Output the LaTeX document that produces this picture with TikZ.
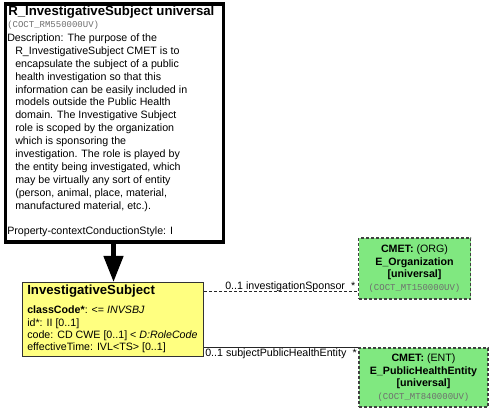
\documentclass[tikz,border=0pt]{standalone}
\usepackage{fontspec}
\setmainfont{Liberation Sans}
\setmonofont{Liberation Mono}
\usetikzlibrary{arrows.meta}
\definecolor{umlyellow}{RGB}{255,255,128}
\definecolor{cmetgreen}{RGB}{128,232,128}
\definecolor{codegray}{RGB}{110,110,110}
\begin{document}
\begin{tikzpicture}[x=0.75pt,y=-0.75pt,
  desc/.style={font=\fontsize{8}{9.6}\selectfont, inner sep=0, anchor=base west},
  boldtitle/.style={font=\bfseries\fontsize{9.9}{12}\selectfont, inner sep=0, anchor=base west},
  codetxt/.style={font=\ttfamily\fontsize{6.75}{8}\selectfont, text=codegray, inner sep=0, anchor=base west},
  cmet/.style={draw=black!75, dash pattern=on 2.25pt off 1.5pt, line width=0.9pt, fill=cmetgreen,
    align=center, font=\fontsize{8}{9.4}\selectfont, inner sep=0},
  lbl/.style={font=\fontsize{8}{9.6}\selectfont, inner sep=0},
  conn/.style={draw=black!85, line width=0.6pt}]
\useasboundingbox (0,0) rectangle (489,409);

% top descriptive box
\node[draw, line width=2.3pt, minimum width=163.5pt, minimum height=178.5pt, anchor=north west, inner sep=0] (rim) at (3.5,2.5) {};
\node[boldtitle] (title) at (8,16) {R\_InvestigativeSubject universal};
\node[codetxt] (code1) at (7,28) {(COCT\_RM550000UV)};
\node[desc] (d0) at (7,41.5) {Description: The purpose of the};
\foreach \t [count=\i] in {
  {R\_InvestigativeSubject CMET is to},
  {encapsulate the subject of a public},
  {health investigation so that this},
  {information can be easily included in},
  {models outside the Public Health},
  {domain. The Investigative Subject},
  {role is scoped by the organization},
  {which is sponsoring the},
  {investigation. The role is played by},
  {the entity being investigated, which},
  {may be virtually any sort of entity},
  {(person, animal, place, material,},
  {manufactured material, etc.).}}
  \node[desc] (d\i) at (15,41.5+\i*12.9) {\t};
\node[desc] (prop) at (7,234.5) {Property-contextConductionStyle: I};

% InvestigativeSubject class
\node[draw=black!80, fill=umlyellow, line width=0.75pt, minimum width=135.75pt, minimum height=55.5pt, anchor=north west, inner sep=0] (subj) at (22,282) {};
\node[boldtitle] (stitle) at (27,294.5) {InvestigativeSubject};
\node[desc] (a1) at (27,313.8) {\textbf{classCode*}: <= \textit{INVSBJ}};
\node[desc] (a2) at (27,326.2) {id*: II [0..1]};
\node[desc] (a3) at (27,338.6) {code: CD CWE [0..1] < \textit{D:RoleCode}};
\node[desc] (a4) at (27,351) {effectiveTime: IVL<TS> [0..1]};

% arrow
\coordinate (ax) at (113.5,0);
\draw[line width=3.4pt, -{Triangle[width=14.25pt,length=19.5pt]}] (rim.south -| ax) -- (subj.north -| ax);

% CMET boxes
\node[cmet, minimum width=84pt, minimum height=45.75pt] (org) at (414.5,268.5)
  {\textbf{CMET:} (ORG)\\\textbf{E\_Organization}\\\textbf{[universal]}\\{\ttfamily\fontsize{6.75}{8}\selectfont\color{codegray}(COCT\_MT150000UV)}};
\node[cmet, minimum width=96.75pt, minimum height=44.25pt] (ent) at (423.5,377.5)
  {\textbf{CMET:} (ENT)\\\textbf{E\_PublicHealthEntity}\\\textbf{[universal]}\\{\ttfamily\fontsize{6.75}{8}\selectfont\color{codegray}(COCT\_MT840000UV)}};

% connectors
\coordinate (sy) at (0,291.5);
\draw[conn, dash pattern=on 2.25pt off 1.5pt] (subj.east |- sy) -- (org.west |- sy);
\node[lbl, anchor=base west] (l1) at (225,290) {0..1 investigationSponsor};
\node[lbl, anchor=base east] (l2) at (355.5,290) {*};

\coordinate (ey) at (0,347);
\draw[conn] (subj.east |- ey) -- (ent.west |- ey);
\node[lbl, anchor=base west] (l3) at (205,357) {0..1 subjectPublicHealthEntity};
\node[lbl, anchor=base east] (l4) at (357,357) {*};
\end{tikzpicture}
\end{document}
